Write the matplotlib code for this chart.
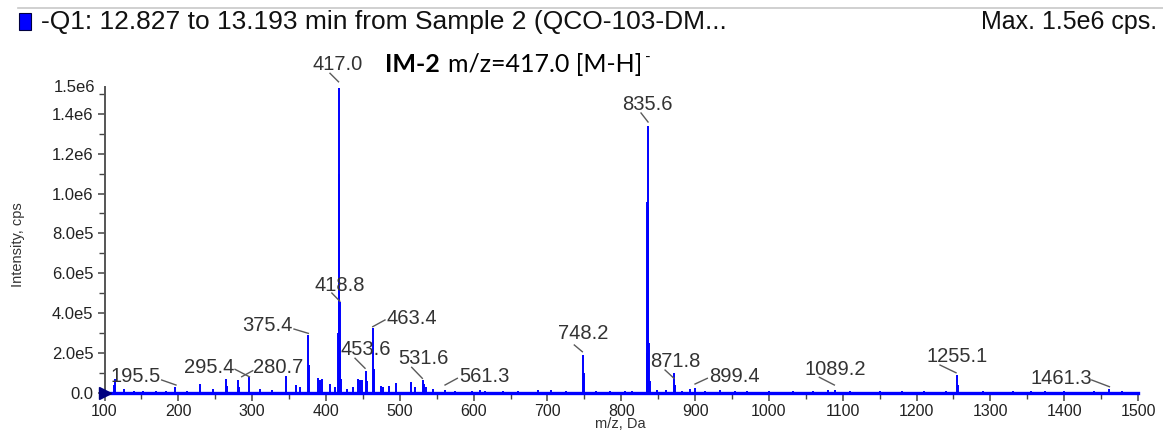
import matplotlib
matplotlib.use("Agg")
import matplotlib.pyplot as plt
from matplotlib.ticker import MultipleLocator, FixedLocator, FuncFormatter
from matplotlib.transforms import ScaledTranslation
from matplotlib.patches import Rectangle
from matplotlib.lines import Line2D
from matplotlib.text import Annotation

plt.rcParams['font.family'] = ['Liberation Sans', 'DejaVu Sans']

# ---------------- data ----------------
mz = [101.0, 113.5, 114.6, 126.0, 140.0, 152.0, 170.0, 183.0, 195.5, 212.0,
      229.4, 247.0, 264.6, 266.0, 280.7, 282.0, 295.4, 311.0, 327.0, 345.4,
      360.0, 365.0, 375.4, 376.4, 388.8, 391.5, 394.0, 405.5, 412.0, 416.4,
      417.0, 417.5, 418.1, 418.8, 419.6, 421.0, 428.0, 437.0, 443.4, 446.5,
      449.0, 453.6, 456.0, 463.4, 464.8, 474.0, 477.6, 485.7, 494.9, 514.8,
      521.0, 531.6, 533.0, 536.0, 545.0, 561.3, 575.0, 598.0, 608.7, 615.0,
      640.0, 660.0, 687.0, 705.0, 725.0, 748.2, 749.2, 766.0, 785.0, 805.0,
      815.0, 834.7, 835.2, 835.6, 836.1, 836.7, 837.4, 838.5, 848.0, 860.0,
      871.8, 873.0, 882.0, 893.0, 899.4, 913.0, 933.8, 954.0, 970.0, 1000.0,
      1033.0, 1060.0, 1080.0, 1089.2, 1110.0, 1150.0, 1180.0, 1210.0, 1240.0, 1255.1,
      1256.8, 1290.0, 1330.0, 1355.0, 1374.0, 1400.0, 1440.0, 1461.3, 1478.0]
intensity = [2.5e4, 4.0e4, 7.0e4, 2.0e4, 1.2e4, 1.0e4, 1.0e4, 1.0e4, 3.2e4, 1.2e4,
             4.4e4, 2.0e4, 7.0e4, 3.5e4, 6.7e4, 3.0e4, 8.0e4, 2.0e4, 1.5e4, 8.7e4,
             4.0e4, 3.0e4, 2.9e5, 1.4e5, 7.7e4, 6.5e4, 7.0e4, 4.5e4, 3.0e4, 3.0e5,
             1.53e6, 1.1e6, 5.2e5, 4.55e5, 1.8e5, 7.0e4, 2.0e4, 3.0e4, 7.2e4, 6.7e4,
             6.5e4, 1.12e5, 6.0e4, 3.24e5, 1.19e5, 3.3e4, 3.0e4, 3.6e4, 5.2e4, 5.6e4,
             3.0e4, 6.5e4, 4.5e4, 3.0e4, 2.0e4, 1.5e4, 1.0e4, 1.2e4, 1.5e4, 1.2e4,
             1.0e4, 1.0e4, 1.5e4, 1.5e4, 1.0e4, 1.9e5, 1.0e5, 1.0e4, 1.0e4, 1.0e4,
             1.2e4, 2.0e5, 9.6e5, 1.34e6, 9.3e5, 6.3e5, 2.5e5, 6.0e4, 1.5e4, 1.5e4,
             9.9e4, 4.0e4, 1.2e4, 2.0e4, 2.5e4, 1.2e4, 1.5e4, 1.2e4, 1.0e4, 1.0e4,
             1.0e4, 1.0e4, 1.5e4, 1.5e4, 1.0e4, 1.0e4, 1.0e4, 1.0e4, 1.0e4, 9.0e4,
             4.0e4, 1.0e4, 1.0e4, 1.0e4, 1.0e4, 1.0e4, 1.0e4, 2.0e4, 1.0e4]

label_text = ["417.0", "835.6", "418.8", "375.4", "463.4", "453.6", "531.6", "295.4",
              "280.7", "195.5", "561.3", "748.2", "871.8", "899.4", "1089.2", "1255.1",
              "1461.3"]
label_mz = [417.0, 835.6, 418.8, 375.4, 463.4, 453.6, 531.6, 295.4,
            280.7, 195.5, 561.3, 748.2, 871.8, 899.4, 1089.2, 1255.1, 1461.3]
label_int = [1.53e6, 1.34e6, 4.55e5, 2.9e5, 3.24e5, 1.12e5, 6.5e4, 8.0e4,
             6.7e4, 3.2e4, 1.5e4, 1.9e5, 9.9e4, 2.5e4, 1.5e4, 9.0e4, 2.0e4]

x_ticks = [100, 200, 300, 400, 500, 600, 700, 800, 900, 1000, 1100, 1200, 1300, 1400, 1500]
y_ticks = [0, 2e5, 4e5, 6e5, 8e5, 1.0e6, 1.2e6, 1.4e6]

# label layout (pixel offsets relative to peak top): text centre, leader start, leader end
label_layout = [
    (-0.5, 22.8, -8.5, 14.5, 0.0, 6.0),
    (0.0, 20.7, -6.5, 12.7, 0.5, 3.7),
    (0.0, 17.2, -8.0, 9.2, 0.0, 1.0),
    (-40.3, 10.1, -13.8, 6.1, 0.5, 1.8),
    (39.2, 10.1, 12.2, 8.4, 0.0, 1.7),
    (0.5, 20.7, -10.5, 12.4, -0.5, 2.4),
    (0.0, 21.7, -11.4, 12.7, -0.8, 1.7),
    (-39.7, 9.7, -13.7, 7.7, 0.6, 0.3),
    (40.1, 12.3, 14.8, 8.9, 3.8, 2.9),
    (-39.0, 9.9, -13.3, 6.6, 1.0, 1.6),
    (39.0, 14.0, 12.3, 11.7, 0.0, 5.0),
    (0.0, 21.8, -8.7, 10.1, -0.7, 3.4),
    (0.8, 11.5, -9.2, 3.2, -0.2, -5.1),
    (39.4, 11.3, 12.7, 9.7, 0.4, 4.0),
    (0.8, 20.7, -15.4, 12.7, -0.4, 5.0),
    (-0.5, 19.0, -17.2, 10.0, -1.2, 2.3),
    (-48.4, 10.7, -17.7, 9.0, 0.0, 2.3),
]

W, H = 1163, 436
fig = plt.figure(figsize=(W / 100, H / 100), dpi=100)
ax = fig.add_axes([104.5 / W, 1 - 393 / H, (1138 - 104.5) / W, (393 - 87) / H])

blue = '#0000ff'
ax.vlines(mz, 0, intensity, color=blue, lw=1.4)
ax.set_xlim(100, 1500)
ax.set_ylim(0, 1.534e6)

for s in ['top', 'right']:
    ax.spines[s].set_visible(False)
ax.spines['left'].set_color('#555555')
ax.spines['left'].set_linewidth(1.4)
ax.spines['bottom'].set_color(blue)
ax.spines['bottom'].set_linewidth(2.4)

ax.xaxis.set_major_locator(FixedLocator(x_ticks))
ax.xaxis.set_minor_locator(MultipleLocator(50))
ax.yaxis.set_major_locator(FixedLocator(y_ticks))
ax.yaxis.set_minor_locator(MultipleLocator(1e5))


def yfmt(v, pos):
    if v == 0:
        return "0.0"
    e = 0
    while v / 10 ** (e + 1) >= 1:
        e += 1
    return f"{v / 10 ** e:.1f}e{e}"


ax.yaxis.set_major_formatter(FuncFormatter(yfmt))
ax.tick_params(axis='x', which='major', direction='out', length=6, width=1.1,
               color='#444444', labelsize=11.5, labelcolor='#222222', pad=2)
ax.tick_params(axis='x', which='minor', direction='out', length=4, width=1.0, color='#444444')
ax.tick_params(axis='y', which='major', direction='out', length=5, width=1.1,
               color='#444444', labelsize=12, labelcolor='#222222', pad=3)
ax.tick_params(axis='y', which='minor', direction='out', length=4, width=1.0, color='#444444')

ax.annotate("1.5e6", xy=(0, 1), xycoords='axes fraction', xytext=(-9.5, 0),
            textcoords='offset pixels', ha='right', va='center', fontsize=12, color='#222222')

# marker at origin
ax.plot([100], [0], marker='>', markersize=8, color='#000080', clip_on=False, zorder=5)

# peak labels
for lab, xm, yi, lay in zip(label_text, label_mz, label_int, label_layout):
    tdx, tdy, sdx, sdy, edx, edy = lay
    tr = ScaledTranslation(xm, yi, ax.transData)
    ln = Line2D([sdx, edx], [sdy, edy], transform=tr, color='#5a5a5a', lw=1.0, clip_on=False)
    ax.add_line(ln)
    ax.annotate(lab, xy=(xm, yi), xytext=(tdx, tdy), textcoords='offset pixels',
                ha='center', va='center', fontsize=14.5, color='#333333', annotation_clip=False)

# axis titles
fig.text(18 / W, 1 - 245 / H, "Intensity, cps", rotation=90, ha='center', va='center',
         fontsize=10.5, color='#333333')
fig.text(620 / W, 1 - 424 / H, "m/z, Da", ha='center', va='center', fontsize=10.5, color='#333333')

# header
fig.add_artist(Line2D([18 / W, 1.0], [1 - 8 / H, 1 - 8 / H], transform=fig.transFigure,
                      color='#c8c8c8', lw=1.2))
fig.add_artist(Rectangle((19 / W, 1 - 30 / H), 12 / W, 17 / H, transform=fig.transFigure,
                         facecolor=blue, edgecolor='#000040', lw=0.8))
fig.text(41 / W, 1 - 22 / H, "-Q1: 12.827 to 13.193 min from Sample 2 (QCO-103-DM...",
         ha='left', va='center', fontsize=19, color='#111111')
fig.text(1157 / W, 1 - 22 / H, "Max. 1.5e6 cps.", ha='right', va='center',
         fontsize=18, color='#111111')

# compound annotation
cfam = ['Lato', 'DejaVu Sans']
t1 = fig.text(385 / W, 1 - 65 / H, "IM-2", ha='left', va='center', fontsize=18,
              fontweight='bold', family=cfam, color='black')
a2 = fig.add_artist(Annotation("m/z=417.0 [M-H]", xy=(1, 0), xycoords=t1,
                               xytext=(8, 0), textcoords='offset pixels',
                               ha='left', va='bottom', fontsize=18,
                               family=cfam, color='black'))
fig.add_artist(Annotation("-", xy=(1, 1), xycoords=a2,
                          xytext=(3, -4), textcoords='offset pixels',
                          ha='left', va='center', fontsize=11,
                          family=cfam, color='black'))

fig.savefig("out.png", dpi=100)
